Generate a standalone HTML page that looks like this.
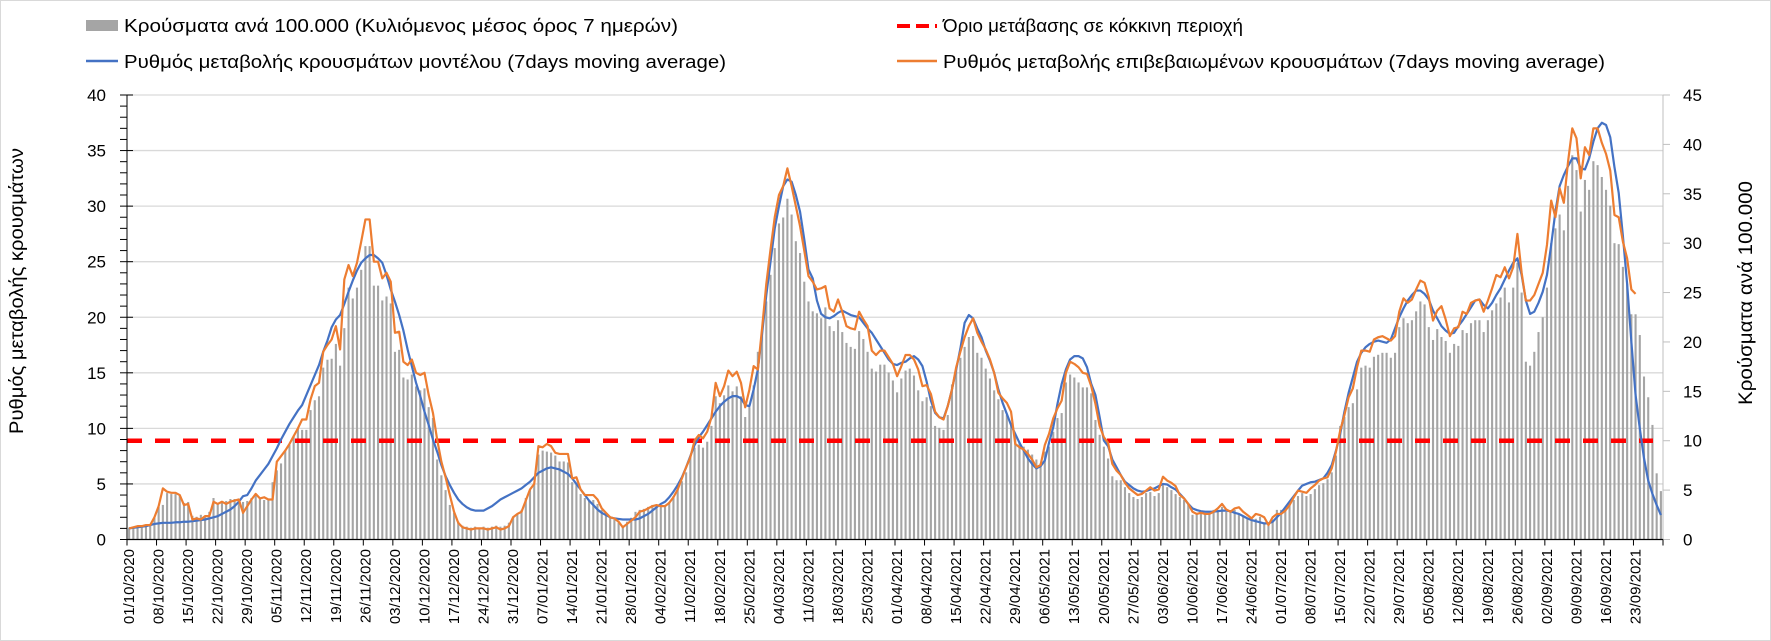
<!DOCTYPE html>
<html><head><meta charset="utf-8"><style>
html,body{margin:0;padding:0;background:#fff;}
svg{display:block;font-family:"Liberation Sans",Arial,sans-serif;}
</style></head><body>
<svg id="chart" width="1771" height="641" viewBox="0 0 1771 641" xmlns="http://www.w3.org/2000/svg">
<rect x="0.5" y="0.5" width="1770" height="640" fill="#fff" stroke="#d9d9d9"/>
<g id="grid"></g>
<g id="bars"></g>
<g id="threshold"></g>
<g id="lines"></g>
<g id="axes"></g>
<g id="legend">
  <g>
    <rect x="86" y="20" width="32" height="11" fill="#a5a5a5"/>
    <text x="124" y="32" font-size="18" textLength="554" lengthAdjust="spacingAndGlyphs" fill="#000">Κρούσματα ανά 100.000 (Κυλιόμενος μέσος όρος 7 ημερών)</text>
  </g>
  <g>
    <line x1="897" y1="26" x2="937" y2="26" stroke="#ff0000" stroke-width="4" stroke-dasharray="13,6"/>
    <text x="943" y="32" font-size="18" textLength="300" lengthAdjust="spacingAndGlyphs" fill="#000">Όριο μετάβασης σε κόκκινη περιοχή</text>
  </g>
  <g>
    <line x1="86" y1="61" x2="118" y2="61" stroke="#4472c4" stroke-width="2.5"/>
    <text x="124" y="68" font-size="18" textLength="602" lengthAdjust="spacingAndGlyphs" fill="#000">Ρυθμός μεταβολής κρουσμάτων μοντέλου (7days moving average)</text>
  </g>
  <g>
    <line x1="897" y1="61" x2="937" y2="61" stroke="#ed7d31" stroke-width="2.5"/>
    <text x="943" y="68" font-size="18" textLength="662" lengthAdjust="spacingAndGlyphs" fill="#000">Ρυθμός μεταβολής επιβεβαιωμένων κρουσμάτων (7days moving average)</text>
  </g>
</g>
<text transform="translate(23,291) rotate(-90)" text-anchor="middle" font-size="19" textLength="286" lengthAdjust="spacingAndGlyphs" fill="#000">Ρυθμός μεταβολής κρουσμάτων</text>
<text transform="translate(1752,293) rotate(-90)" text-anchor="middle" font-size="19" textLength="224" lengthAdjust="spacingAndGlyphs" fill="#000">Κρούσματα ανά 100.000</text>
</svg>
<script>
const modelRate = [
1.0,1.05,1.1,1.15,1.2,1.3,1.4, 1.45,1.5,1.5,1.5,1.55,1.55,1.6, 1.6,1.65,1.7,1.75,1.8,1.9,2.0,
2.1,2.3,2.5,2.7,3.0,3.4,3.9, 4.0,4.6,5.3,5.8,6.3,6.8,7.5, 8.2,9.0,9.7,10.4,11.0,11.6,12.1,
13.0,13.9,14.8,15.7,16.9,17.9,19.1, 19.8,20.2,21.2,22.3,23.3,24.2,24.9, 25.3,25.6,25.6,25.3,24.9,23.8,22.5,
21.4,20.2,18.8,17.1,15.6,14.1,12.9, 11.5,10.3,9.0,7.9,6.7,5.7,4.9,
4.2,3.6,3.2,2.9,2.7,2.6,2.6, 2.6,2.8,3.0,3.3,3.6,3.8,4.0, 4.2,4.4,4.6,4.9,5.2,5.6,6.0,
6.2,6.4,6.5,6.4,6.3,6.1,5.9, 5.5,5.0,4.5,4.0,3.5,3.1,2.7, 2.4,2.2,2.0,1.9,1.85,1.8,1.8, 1.8,
1.8,1.9,2.1,2.3,2.6,2.9,3.2, 3.4,3.8,4.3,4.9,5.6,6.5,7.5, 8.5,9.2,9.7,10.3,10.9,11.5,12.0,
12.4,12.7,12.9,12.9,12.7,12.1,12.0, 13.5,15.3,18.5,22.0,25.0,28.0,30.0,
31.8,32.4,32.2,31.0,29.5,27.0,24.3, 23.5,21.5,20.3,20.0,19.9,20.1,20.4, 20.6,20.4,20.2,20.1,20.0,19.5,19.0,
18.6,18.0,17.4,16.8,16.2,15.8,15.7, 15.9,16.0,16.3,16.5,16.2,15.6,14.2, 12.5,11.4,11.0,10.9,12.0,13.5,15.3,
17.2,19.5,20.2,19.9,19.0,18.2,17.0, 16.1,15.0,13.5,12.3,11.3,10.3,9.5, 8.7,8.0,7.3,6.8,6.4,6.6,7.1,
8.7,10.1,12.2,14.0,15.3,16.2,16.5, 16.5,16.3,15.5,14.0,13.0,11.0,8.9,
8.4,7.2,6.5,5.8,5.2,4.9,4.6, 4.4,4.3,4.35,4.5,4.6,4.8,5.0, 4.95,4.7,4.5,4.1,3.7,3.2,2.8,
2.65,2.55,2.5,2.5,2.5,2.55,2.6, 2.6,2.55,2.4,2.3,2.1,1.9,1.75, 1.65,1.55,1.45,1.45,1.6,2.0,2.4,
2.9,3.4,3.9,4.4,4.85,5.0,5.15,
5.2,5.35,5.5,6.0,6.7,8.0,9.5, 11.5,13.2,14.6,16.0,16.8,17.3,17.6, 17.8,17.9,17.8,17.7,18.0,19.0,20.0,
20.8,21.5,22.0,22.4,22.4,22.1,21.6, 20.6,19.9,19.2,18.8,18.5,18.6,19.2, 19.7,20.3,20.9,21.5,21.6,21.1,20.8,
21.3,22.0,22.6,23.4,24.2,24.9,25.3, 23.8,21.5,20.3,20.5,21.3,22.3,23.8, 26.5,29.5,31.8,32.8,33.6,34.3,34.3,
33.4,33.3,34.3,35.8,37.0,37.5,37.3, 36.2,33.5,31.2,27.3,23.0,17.8,13.0, 10.0,7.3,5.3,4.1,3.1,2.2
];
const confirmedRate = [
1.0,1.1,1.2,1.2,1.3,1.3,2.0, 3.0,4.6,4.3,4.2,4.2,4.0,3.1, 3.2,1.8,1.9,1.8,2.1,2.1,3.4,
3.2,3.4,3.2,3.4,3.5,3.6,2.4, 3.0,3.6,4.1,3.7,3.8,3.6,3.6, 7.0,7.5,8.0,8.6,9.3,10.0,10.8,
10.8,12.6,13.8,14.1,16.9,17.5,18.0, 19.2,17.1,23.4,24.7,23.7,24.9,26.8, 28.8,28.8,25.0,25.0,23.5,24.0,23.2,
18.6,18.7,16.0,15.7,16.2,15.0,14.8, 15.0,13.0,11.4,9.0,7.0,5.6,4.0,
2.5,1.5,1.1,1.0,0.9,1.0,1.0, 1.0,0.9,1.0,1.1,0.9,1.0,1.2, 2.0,2.3,2.5,3.5,4.5,5.0,8.4,
8.3,8.6,8.4,7.8,7.7,7.7,7.7, 5.5,5.6,4.5,4.0,4.0,4.0,3.6, 2.8,2.4,2.0,1.9,1.6,1.1,1.4, 1.7,
2.0,2.5,2.6,2.8,3.0,3.1,3.0, 3.0,3.3,3.8,4.5,5.5,6.5,7.4, 8.9,9.4,9.1,9.7,11.0,14.1,12.9,
13.8,15.2,14.7,15.1,14.1,11.9,13.5, 15.6,15.3,19.0,23.0,26.1,29.0,31.0,
31.8,33.4,31.8,30.0,28.2,26.0,23.7, 23.2,22.5,22.6,22.8,20.8,20.5,21.6, 20.5,19.2,19.0,18.9,20.5,19.8,19.2,
17.0,16.6,17.0,17.0,16.4,15.8,14.7, 15.6,16.6,16.6,16.2,15.3,13.8,13.9, 13.1,11.5,11.0,10.8,12.0,13.5,15.5,
16.9,18.2,19.2,19.9,18.6,17.8,17.1, 16.2,15.0,13.2,12.7,12.3,11.5,8.6, 8.3,8.1,7.7,7.2,6.5,6.7,8.5,
9.5,10.9,11.8,12.5,15.0,16.0,15.8, 15.5,15.0,14.9,13.8,12.2,10.2,9.2,
8.7,6.8,6.2,5.8,5.1,4.6,4.3, 4.0,4.1,4.4,4.7,4.4,4.5,5.65, 5.3,5.1,4.8,4.0,3.7,3.2,2.5,
2.3,2.4,2.3,2.3,2.5,2.8,3.2, 2.7,2.5,2.8,2.9,2.5,2.2,1.9, 2.3,2.2,2.0,1.3,2.0,2.3,2.3,
2.6,3.1,3.8,4.4,4.3,4.2,4.6,
4.9,5.3,5.5,5.6,6.4,7.9,9.8, 11.2,12.8,13.6,15.5,17.0,17.0,16.9, 18.0,18.2,18.3,18.1,17.9,18.3,20.5,
21.7,21.3,21.6,22.5,23.3,23.1,21.8, 19.7,20.6,21.0,19.8,18.3,19.0,19.1, 20.5,20.3,21.3,21.5,21.6,20.5,21.5,
22.6,23.8,23.6,24.5,23.5,24.5,27.5, 24.0,21.5,21.5,22.0,23.0,24.0,26.5, 30.5,29.0,31.6,30.3,34.0,37.0,36.1,
32.5,35.3,34.6,37.0,37.0,35.7,34.7, 33.2,29.2,29.0,26.8,25.3,22.5,22.1, null,null,null,null,null,null
];
const casesPer100k = [
1.2,1.2,1.3,1.3,1.4,1.4,2.2, 3.3,3.5,4.7,4.6,4.6,4.5,3.7, 3.8,2.4,2.3,2.5,2.4,2.8,4.2,
3.7,3.8,3.9,4.1,4.1,4.1,3.8, 3.9,4.2,4.4,4.1,4.0,4.1,5.8, 7.0,7.7,9.0,9.6,10.5,11.2,11.1,
11.1,13.1,14.1,14.5,17.4,18.2,18.3, 19.8,17.6,21.4,25.5,24.4,25.5,27.3, 29.7,29.7,25.7,25.7,24.2,24.6,23.9,
19.0,19.2,16.4,16.2,16.7,15.5,15.1, 15.3,13.4,12.3,8.1,6.5,5.0,3.5,
2.7,1.8,1.4,1.3,1.2,1.3,1.2, 1.3,1.2,1.3,1.4,1.3,1.4,1.7, 2.3,2.6,3.0,4.2,5.0,5.6,8.6,
9.0,8.9,8.8,8.5,7.9,7.9,7.8, 5.8,5.6,4.6,4.2,4.0,4.0,3.6, 3.0,2.6,2.2,2.0,1.7,1.3,1.8, 2.2,
2.8,3.0,3.1,3.3,3.5,3.5,3.4, 3.5,3.8,4.4,5.3,5.9,6.8,8.3, 9.3,9.6,9.3,9.9,11.5,14.5,13.8,
14.6,15.6,15.0,15.5,14.5,12.4,13.4, 15.6,19.0,21.2,24.1,26.8,29.5,32.0,
32.6,34.5,32.9,30.2,29.0,26.1,24.1, 23.1,22.9,22.4,23.5,21.6,21.1,22.2, 21.0,19.9,19.5,19.3,21.1,20.3,19.0,
17.3,17.0,17.7,17.7,16.9,16.1,14.9, 16.3,17.1,17.3,16.6,15.1,14.0,14.4, 13.5,11.5,11.3,11.1,12.6,15.7,17.3,
18.4,19.5,20.5,20.6,18.9,18.4,17.3, 16.3,15.1,14.2,13.1,12.6,11.8,10.6, 9.9,9.4,9.1,8.6,8.1,7.7,8.9,
9.4,10.9,12.3,12.8,15.9,16.7,16.4, 15.9,15.4,15.4,14.8,12.1,10.6,9.4,
8.2,6.4,6.0,6.0,5.3,4.7,4.3, 4.1,4.3,4.7,4.8,4.4,4.7,5.5, 5.3,5.0,4.6,4.3,4.0,3.6,2.5,
2.6,2.7,2.6,2.7,3.0,3.0,3.3, 2.8,2.8,3.0,2.6,2.3,2.1,2.0, 2.1,2.3,1.6,1.4,2.0,3.0,3.0,
3.1,3.5,4.0,4.4,4.7,4.4,4.6,
5.1,5.5,5.7,6.1,6.8,8.5,11.5, 12.4,13.4,13.8,15.2,17.4,17.6,17.4, 18.5,18.7,18.9,18.9,18.4,18.9,21.5,
22.4,21.9,22.2,23.1,24.1,23.8,21.5, 20.2,21.3,20.5,20.1,18.9,19.8,19.6, 21.2,20.9,21.9,22.2,22.2,21.0,22.2,
23.2,23.9,24.5,25.5,24.0,25.5,28.0, 25.0,18.0,17.6,19.0,21.0,22.5,25.5, 30.0,31.5,32.9,31.3,35.8,38.9,37.4,
33.2,36.4,35.4,38.3,37.9,36.7,35.4, 33.8,30.0,29.9,27.6,25.9,22.8,22.8, 20.7,16.5,14.4,11.6,6.7,4.9
];
const dateLabels = ["01/10/2020","08/10/2020","15/10/2020","22/10/2020","29/10/2020","05/11/2020","12/11/2020","19/11/2020","26/11/2020","03/12/2020","10/12/2020","17/12/2020","24/12/2020","31/12/2020","07/01/2021","14/01/2021","21/01/2021","28/01/2021","04/02/2021","11/02/2021","18/02/2021","25/02/2021","04/03/2021","11/03/2021","18/03/2021","25/03/2021","01/04/2021","08/04/2021","15/04/2021","22/04/2021","29/04/2021","06/05/2021","13/05/2021","20/05/2021","27/05/2021","03/06/2021","10/06/2021","17/06/2021","24/06/2021","01/07/2021","08/07/2021","15/07/2021","22/07/2021","29/07/2021","05/08/2021","12/08/2021","19/08/2021","26/08/2021","02/09/2021","09/09/2021","16/09/2021","23/09/2021"];
const leftTicks = [0,5,10,15,20,25,30,35,40];
const rightTicks = [0,5,10,15,20,25,30,35,40,45];
const thresholdRight = [10];

const NS = "http://www.w3.org/2000/svg";
const X0 = 127, X1 = 1663, Y0 = 539.5, YT = 95;
const N = casesPer100k.length;
const step = (X1 - X0) / N;
const xEdge = i => X0 + i * step;
const xC = i => X0 + (i + 0.5) * step;
const yL = v => Y0 - v * (Y0 - YT) / 40;
const yR = v => Y0 - v * (Y0 - YT) / 45;
function mk(tag, attrs, parent) {
  const e = document.createElementNS(NS, tag);
  for (const k in attrs) e.setAttribute(k, attrs[k]);
  parent.appendChild(e);
  return e;
}
const grid = document.getElementById('grid');
leftTicks.forEach(t => {
  if (t === 0) return;
  const g = mk('line', {x1: X0, x2: X1, y1: yL(t), y2: yL(t), stroke: '#d9d9d9', 'stroke-width': 1.3}, grid);
  
  
});
const bars = document.getElementById('bars');
casesPer100k.forEach((v, i) => {
  const r = mk('rect', {x: xC(i) - 1.05, y: yR(v), width: 2.1, height: Y0 - yR(v), fill: '#a5a5a5'}, bars);
  
  
});
const thr = document.getElementById('threshold');
const tl = mk('line', {x1: X0, x2: X1 - 10, y1: yR(thresholdRight[0]), y2: yR(thresholdRight[0]), stroke: '#ff0000', 'stroke-width': 4.5, 'stroke-dasharray': '15,13'}, thr);


const lines = document.getElementById('lines');
function linePath(arr) {
  let d = '', pen = false;
  arr.forEach((v, i) => {
    if (v === null) { pen = false; return; }
    d += (pen ? 'L' : 'M') + xC(i).toFixed(2) + ' ' + yL(v).toFixed(2);
    pen = true;
  });
  return d;
}
const pb = mk('path', {d: linePath(modelRate), fill: 'none', stroke: '#4472c4', 'stroke-width': 2.2, 'stroke-linejoin': 'round'}, lines);


const po = mk('path', {d: linePath(confirmedRate), fill: 'none', stroke: '#ed7d31', 'stroke-width': 2.2, 'stroke-linejoin': 'round'}, lines);



const axes = document.getElementById('axes');
// left axis
const la = mk('line', {x1: X0, x2: X0, y1: YT, y2: Y0, stroke: '#000', 'stroke-width': 1}, axes);


for (let v = 0; v <= 40; v++) {
  const major = v % 5 === 0;
  mk('line', {x1: 120, x2: major ? 133 : 127, y1: yL(v), y2: yL(v), stroke: '#000', 'stroke-width': 1}, axes);
}
leftTicks.forEach(t => {
  const tx = mk('text', {x: 106, y: yL(t) + 6, 'text-anchor': 'end', 'font-size': 17, fill: '#000'}, axes);
  tx.textContent = t;
  
  
});
// right axis
const ra = mk('line', {x1: X1, x2: X1, y1: yR(45), y2: Y0, stroke: '#bfbfbf', 'stroke-width': 1}, axes);


rightTicks.forEach(t => {
  mk('line', {x1: X1, x2: X1 + 7, y1: yR(t), y2: yR(t), stroke: '#bfbfbf', 'stroke-width': 1}, axes);
  const tx = mk('text', {x: 1683, y: yR(t) + 6, 'text-anchor': 'start', 'font-size': 17, fill: '#000'}, axes);
  tx.textContent = t;
  
  
});
// x axis
const xa = mk('line', {x1: X0, x2: X1, y1: Y0, y2: Y0, stroke: '#000', 'stroke-width': 1.2}, axes);


for (let i = 0; i <= N; i += 7) {
  mk('line', {x1: xEdge(i), x2: xEdge(i), y1: Y0, y2: Y0 + 6, stroke: '#000', 'stroke-width': 1}, axes);
}
mk('line', {x1: X1, x2: X1, y1: Y0, y2: Y0 + 6, stroke: '#000', 'stroke-width': 1}, axes);
dateLabels.forEach((lab, k) => {
  const x = xEdge(k * 7) + 7;
  const tx = mk('text', {transform: 'translate(' + x.toFixed(2) + ',549) rotate(-90)', 'text-anchor': 'end', 'font-size': 15, fill: '#000'}, axes);
  tx.textContent = lab;
  
  
});
</script>
</body></html>
